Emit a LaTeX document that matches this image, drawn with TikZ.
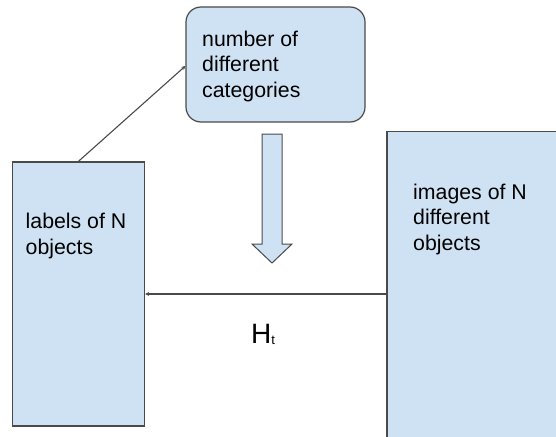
\documentclass[tikz,border=0pt]{standalone}
\usepackage{fontspec}
\setmainfont{Liberation Sans}
\usetikzlibrary{arrows.meta,shapes.arrows}
\definecolor{boxfill}{HTML}{CFE2F3}
\definecolor{boxline}{HTML}{4A4A4A}
\begin{document}
\begin{tikzpicture}[x=1pt,y=-1pt,
  box/.style={draw=boxline,fill=boxfill,line width=1.2pt},
  txt/.style={font=\fontsize{21.3}{25.5}\selectfont,align=left,anchor=west,inner sep=0pt},
  conn/.style={draw=boxline,line width=1.1pt,-{Stealth[length=4pt,width=4pt]}}]
  \useasboundingbox (0,0) rectangle (556,436);
  \begin{scope}
    \clip (0,0) rectangle (556,436);
    % right block runs off the page edges
    \draw[box] (387,131.5) rectangle (570,450);
  \end{scope}
  \node[box,rounded corners=15pt,minimum width=179pt,minimum height=115pt,inner sep=0pt] (cat) at (275.5,64.5) {};
  \node[box,minimum width=132pt,minimum height=264pt,inner sep=0pt] (lab) at (78.5,294) {};
  \coordinate (img) at (387,294);
  \node[txt] (cattxt) at (202,66) {number of\\different\\categories};
  \node[txt] (labtxt) at (25.5,236) {labels of N\\objects};
  \node[txt] (imgtxt) at (413,219) {images of N\\different\\objects};
  % wide down arrow below the categories box
  \draw[box,line width=1pt,line join=miter] (262,134) -- (282,134) -- (282,244) -- (292,244) -- (272,263) -- (252,244) -- (262,244) -- cycle;
  \draw[conn] (img) -- (lab.east);
  \draw[conn] (lab.north west) ++(66.5,0) coordinate (labtop) -- (cat.west |- 0,66);
  \node[inner sep=0pt,font=\fontsize{28}{30}\selectfont] (ht) at (263,334) {H\raisebox{-1pt}{\fontsize{13}{14}\selectfont t}};
\end{tikzpicture}
\end{document}
